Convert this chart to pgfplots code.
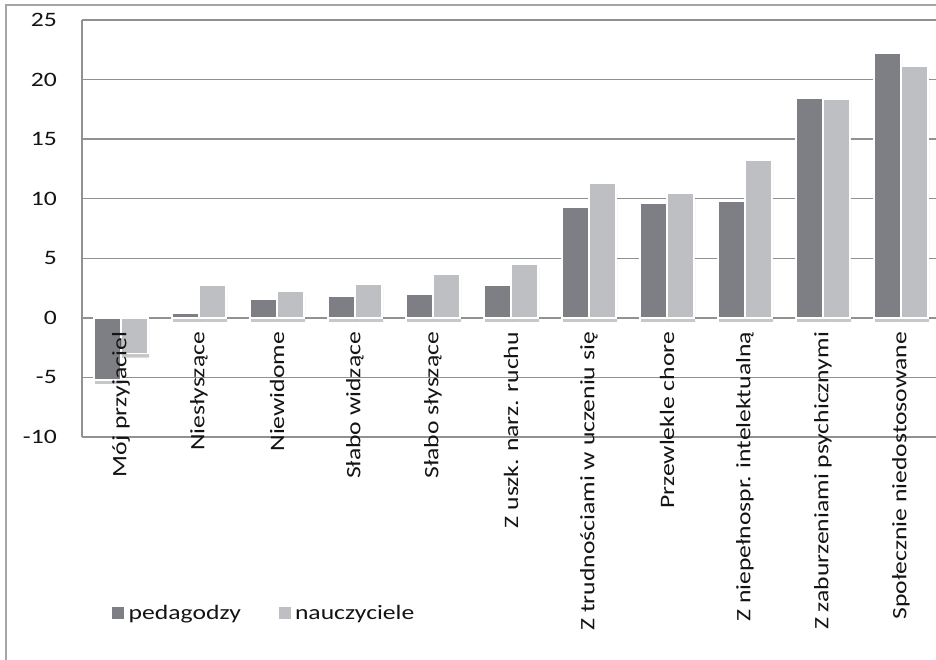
\documentclass[border=0pt]{standalone}
\usepackage{pgfplots}
\pgfplotsset{compat=1.18}
\usepackage{fontspec}
\setmainfont{Carlito}[FakeStretch=1.25]

\definecolor{peddark}{RGB}{126,127,132}
\definecolor{nauclight}{RGB}{190,191,195}
\definecolor{gridgray}{RGB}{145,145,145}
\definecolor{framegray}{RGB}{165,165,165}
\definecolor{txt}{RGB}{20,20,20}

\pgfplotstableread{
x ped nau
0 -5.2 -3.0
1 0.4 2.7
2 1.6 2.25
3 1.8 2.8
4 1.95 3.7
5 2.7 4.5
6 9.3 11.3
7 9.6 10.5
8 9.8 13.2
9 18.4 18.35
10 22.2 21.15
}\data

\pgfplotsset{
  shadowbar/.style={forget plot, fill=black, fill opacity=0.22, draw=none,
    transform canvas={yshift=-4pt}},
}

\begin{document}
\begin{tikzpicture}
\fill[white] (0pt,0pt) rectangle (936pt,660pt);
\draw[framegray, line width=2pt] (6pt,-20pt) -- (6pt,655pt) -- (960pt,655pt);
\begin{axis}[
  at={(82pt,223pt)}, anchor=south west,
  scale only axis, width=858pt, height=417pt, clip=false,
  ybar=0pt, bar width=27pt,
  xmin=-0.5, xmax=10.5, ymin=-10, ymax=25,
  ytick={-10,-5,0,5,10,15,20,25},
  xtick=\empty,
  axis x line*=middle, axis y line*=left,
  axis line style={gridgray, line width=1.5pt, -},
  ymajorgrids, grid style={gridgray, line width=1.5pt},
  major tick length=0pt,
  /pgf/number format/assume math mode=true,
  tick label style={font=\fontsize{20.5}{24}\selectfont, text=txt},
  yticklabel style={anchor=east, inner sep=0pt, xshift=-25pt},
  legend columns=2,
  legend style={draw=none, fill=none, at={(0.035,-0.422)}, anchor=west,
    inner sep=0pt, font=\fontsize{20.5}{24}\selectfont, text=txt,
    nodes={inner xsep=4.5pt, inner ysep=0pt},
    /tikz/every even column/.append style={column sep=33pt}},
  legend image code/.code={\fill[#1, draw=none] (0pt,-6pt) rectangle (12pt,6pt);},
]
% soft shadows under the bars
\addplot[shadowbar, bar shift=-12.5pt] table[x=x, y=ped] {\data};
\addplot[shadowbar, bar shift=14.5pt] table[x=x, y=nau] {\data};
% bars
\addplot[fill=peddark, draw=white, line width=1.5pt, bar shift=-13.5pt] table[x=x, y=ped] {\data};
\addplot[fill=nauclight, draw=white, line width=1.5pt, bar shift=13.5pt] table[x=x, y=nau] {\data};
\legend{pedagodzy, nauczyciele}
% category labels, set over the bars as in the original
\foreach \i/\lab in {0/Mój przyjaciel, 1/Niesłyszące, 2/Niewidome, 3/Słabo widzące,
    4/Słabo słyszące, 5/Z uszk. narz. ruchu, 6/Z trudnościami w uczeniu się,
    7/Przewlekle chore, 8/Z niepełnospr. intelektualną,
    9/Z zaburzeniami psychicznymi, 10/Społecznie niedostosowane} {
  \edef\tmp{\noexpand\node[rotate=90, anchor=east, inner xsep=14pt, inner ysep=0pt,
    font=\noexpand\fontsize{20.5}{24}\noexpand\selectfont, text=txt]
    at (axis cs:\i,0) {\unexpanded\expandafter{\lab}};}
  \tmp
}
\end{axis}
\pgfresetboundingbox
\useasboundingbox (0pt,0pt) rectangle (936pt,660pt);
\end{tikzpicture}
\end{document}
